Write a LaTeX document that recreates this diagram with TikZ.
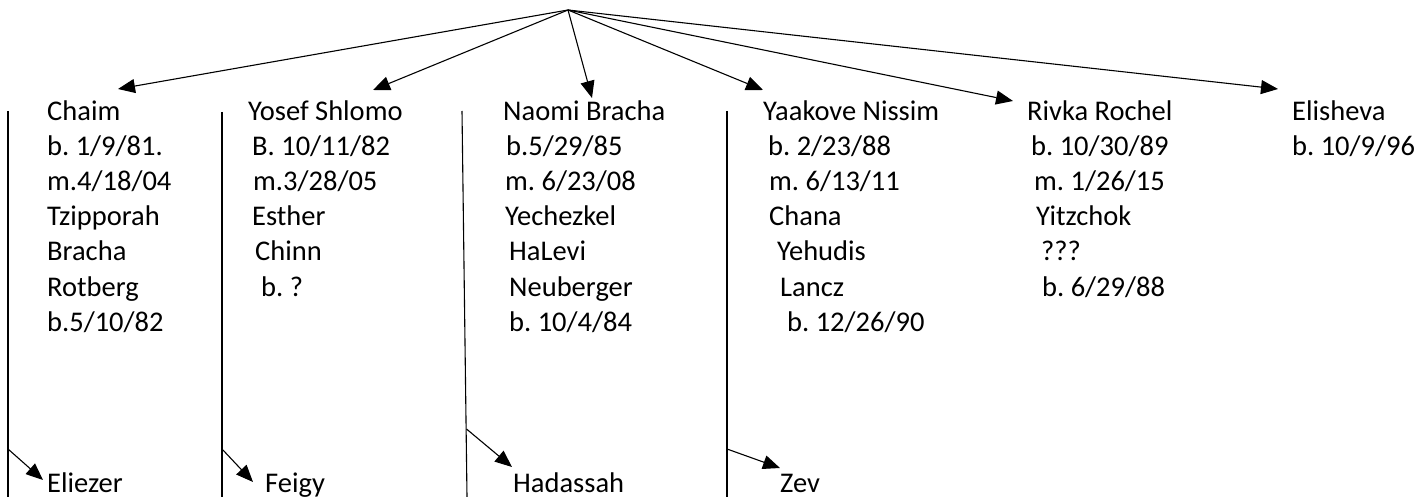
\documentclass[tikz,border=0pt]{standalone}
\usepackage{fontspec}
\setmainfont{Carlito}
\usetikzlibrary{arrows.meta}
\frenchspacing

\begin{document}
\begin{tikzpicture}[x=1pt,y=-1pt,
    kid/.style={anchor=base west, inner sep=0pt, font=\fontsize{28.5}{34}\selectfont},
    arr/.style={-{Triangle[length=17pt,width=14pt]}, line width=1.1pt}]
  \useasboundingbox (0,0) rectangle (1422,497);

  % top of the tree
  \coordinate (top) at (568,10);

  % first row of children
  \node [kid] (chaim)    at (47,121)   {Chaim};
  \node [kid] (chaimb)   at (47,156)   {b. 1/9/81.};
  \node [kid] (chaimm)   at (47,191)   {m.4/18/04};
  \node [kid] (chaimw1)  at (47,226)   {Tzipporah};
  \node [kid] (chaimw2)  at (47,261)   {Bracha};
  \node [kid] (chaimw3)  at (47,296)   {Rotberg};
  \node [kid] (chaimwb)  at (47,331)   {b.5/10/82};

  \node [kid] (yosef)    at (248,121)  {Yosef Shlomo};
  \node [kid] (yosefb)   at (252,156)  {B. 10/11/82};
  \node [kid] (yosefm)   at (253,191)  {m.3/28/05};
  \node [kid] (yosefw1)  at (252,226)  {Esther};
  \node [kid] (yosefw2)  at (255,261)  {Chinn};
  \node [kid] (yosefwb)  at (261,296)  {b. ?};

  \node [kid] (naomi)    at (503,121)  {Naomi Bracha};
  \node [kid] (naomib)   at (506,156)  {b.5/29/85};
  \node [kid] (naomim)   at (505,191)  {m. 6/23/08};
  \node [kid] (naomih1)  at (505,226)  {Yechezkel};
  \node [kid] (naomih2)  at (509,261)  {HaLevi};
  \node [kid] (naomih3)  at (509,296)  {Neuberger};
  \node [kid] (naomihb)  at (509,331)  {b. 10/4/84};

  \node [kid] (yaakov)   at (763,121)  {Yaakove Nissim};
  \node [kid] (yaakovb)  at (768,156)  {b. 2/23/88};
  \node [kid] (yaakovm)  at (769,191)  {m. 6/13/11};
  \node [kid] (yaakovw1) at (769,226)  {Chana};
  \node [kid] (yaakovw2) at (777,261)  {Yehudis};
  \node [kid] (yaakovw3) at (780,296)  {Lancz};
  \node [kid] (yaakovwb) at (787,331)  {b. 12/26/90};

  \node [kid] (rivka)    at (1027,121) {Rivka Rochel};
  \node [kid] (rivkab)   at (1031,156) {b. 10/30/89};
  \node [kid] (rivkam)   at (1034,191) {m. 1/26/15};
  \node [kid] (rivkah1)  at (1036,226) {Yitzchok};
  \node [kid] (rivkah2)  at (1041,261) {???};
  \node [kid] (rivkahb)  at (1042,296) {b. 6/29/88};

  \node [kid] (elisheva)  at (1292,121) {Elisheva};
  \node [kid] (elishevab) at (1292,156) {b. 10/9/96};

  % grandchildren
  \node [kid] (eliezer)  at (47,492)   {Eliezer};
  \node [kid] (feigy)    at (265,492)  {Feigy};
  \node [kid] (hadassah) at (513,492)  {Hadassah};
  \node [kid] (zev)      at (780,492)  {Zev};

  % arrows to the children
  \coordinate (tochaim)    at (118,89);
  \coordinate (toyosef)    at (373,90);
  \coordinate (tonaomi)    at (592,98);
  \coordinate (toyaakov)   at (763,90);
  \coordinate (torivka)    at (1013,101);
  \coordinate (toelisheva) at (1278,89);
  \draw [arr] (top) -- (tochaim);
  \draw [arr] (top) -- (toyosef);
  \draw [arr] (top) -- (tonaomi);
  \draw [arr] (top) -- (toyaakov);
  \draw [arr] (top) -- (torivka);
  \draw [arr] (top) -- (toelisheva);

  % family lines
  \coordinate (line1) at (8,111);   \coordinate (line1end) at (8,497);
  \coordinate (line2) at (222,112); \coordinate (line2end) at (222,497);
  \coordinate (line3) at (462,111); \coordinate (line3end) at (467,497);
  \coordinate (line4) at (727,111); \coordinate (line4end) at (727,497);
  \draw [line width=1.1pt] (line1) -- (line1end);
  \draw [line width=1.1pt] (line2) -- (line2end);
  \draw [line width=1.1pt] (line3) -- (line3end);
  \draw [line width=1.1pt] (line4) -- (line4end);

  % arrows to the grandchildren
  \coordinate (from1) at (8,449);
  \coordinate (from2) at (222,449);
  \coordinate (from3) at (466.5,429);
  \coordinate (from4) at (727,449);
  \draw [arr] (from1) -- (43,480) coordinate (toeliezer);
  \draw [arr] (from2) -- (253,482) coordinate (tofeigy);
  \draw [arr] (from3) -- (512,467) coordinate (tohadassah);
  \draw [arr] (from4) -- (780,468) coordinate (tozev);
\end{tikzpicture}
\end{document}
